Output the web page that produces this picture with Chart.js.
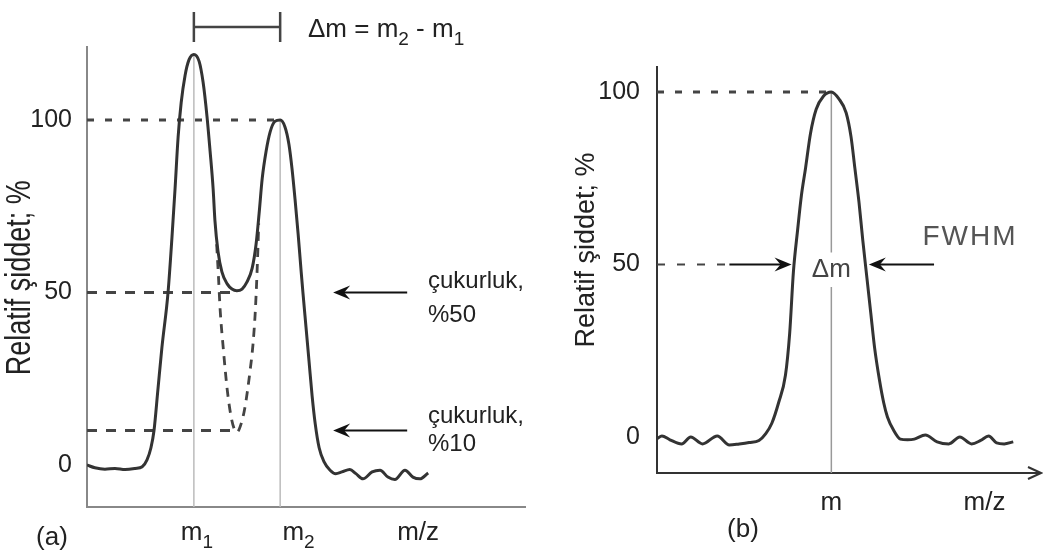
<!DOCTYPE html>
<html lang="tr">
<head>
  <meta charset="UTF-8" />
  <title>Kütle spektrumu çözünürlüğü</title>
  <style>
    body {
      margin: 0;
      background: #fff;
    }
    #kutu {
      position: relative;
      width: 1043px;
      height: 557px;
      overflow: hidden;
    }
    canvas {
      position: absolute;
      top: 0;
    }
    #grafA { left: 0; }
    #grafB { left: 540px; }
  </style>
  <script src="https://cdn.jsdelivr.net/npm/chart.js"></script>
</head>
<body>
  <div id="kutu">
    <canvas id="grafA" width="540" height="557"></canvas>
    <canvas id="grafB" width="503" height="557"></canvas>
  </div>

  <script>
    const FONT = "'Liberation Sans', Arial, sans-serif";

    // (a) iki tepe, m/z keyfi birim (0-100)
    const aX = [0, 1.8, 4.1, 6.4, 8.7, 11.0, 12.6, 13.7, 14.6, 15.3, 16.2, 17.1, 18.5, 19.4, 20.1, 20.8,
      21.5, 22.4, 23.3, 24.4, 25.6, 26.5, 27.4, 28.1, 28.8, 29.2, 29.9, 30.8, 32.0, 33.1, 34.2, 35.4,
      36.5, 37.7, 38.6, 39.3, 40.0, 40.9, 41.8, 42.9, 44.1, 45.2, 46.1, 46.8, 47.5, 48.2, 48.9, 49.3,
      50.0, 50.7, 51.4, 52.1, 53.0, 54.1, 55.5, 56.8, 58.2, 60.0, 61.4, 63.0, 65.1, 66.9, 68.7, 70.3,
      72.6, 74.4, 76.0, 77.9];
    const aY = [0, -0.8, -1.2, -1.0, -1.3, -1.0, -0.5, 1.5, 5, 10, 22, 34, 50, 66, 80, 95,
      105, 113, 117.5, 119, 117, 111, 101, 91, 80, 71, 62, 56, 52.5, 51, 50.5, 51,
      53, 57, 64, 73, 83, 91, 96.5, 99.6, 100, 98, 93, 86, 77, 67, 56, 50,
      40, 30, 20, 12, 5, 1, -1.5, -2.5, -2, -1.3, -2.5, -4, -2, -1.5, -3.5, -4.2,
      -1.5, -3.5, -4, -2.3];
    // %10 çukurluk için kesikli vadi
    const aCukurX = [29.6, 30.0, 30.4, 31.1, 32.0, 32.9, 33.6, 34.2, 35.2, 36.1, 37.2, 37.9, 38.4, 38.7, 39.0, 39.2];
    const aCukurY = [64, 55, 45, 34, 22, 14, 10.5, 9.5, 12, 17, 27, 35, 44, 52, 62, 70];
    const aTepeX = [24.4, 44.1]; // m1, m2
    const aTepeY = [119, 100];
    const aRefY = [100, 50, 10];
    const aRefBitis = [44.1, 33.3, 33.9];
    const aYTicks = [0, 50, 100];
    const aXEtiket = ["m_1", "m_2", "m/z"];

    // (b) tek tepe
    const bX = [0, 1.3, 3.4, 6.5, 8.9, 12.0, 15.9, 19.1, 21.7, 24.3, 26.9, 28.7, 30.3, 32.1, 33.9, 35.0,
      36.0, 37.1, 38.1, 39.2, 40.5, 42.0, 43.9, 46.0, 48.0, 49.9, 51.2, 52.2, 53.3, 54.3, 55.4, 56.4,
      57.4, 58.7, 59.8, 60.8, 62.4, 64.2, 66.1, 67.9, 70.8, 73.9, 77.0, 79.9, 83.0, 85.4, 87.5, 89.6,
      91.6, 94.0];
    const bY = [-0.5, 0.3, -0.8, -2, 0, -2, 0.3, -2.3, -2, -1.6, -1, 1, 4, 10, 18, 30,
      48, 60, 70, 78, 88, 95, 98.8, 100, 98, 94, 87, 78, 68, 57, 46, 36,
      26, 16.5, 10, 5.8, 2, -0.6, -0.8, -0.6, 0.6, -1.4, -2, 0, -2, -1, 0.3, -1.7,
      -2, -1.4];
    const bTepeX = 46.0;
    const bYTicks = [0, 50, 100];
    const bXEtiket = ["m", "m/z"];

    const noktalar = (xs, ys) => xs.map((x, i) => ({ x: x, y: ys[i] }));

    // alt indisli yazı: "m_1" -> m₁
    function zengin(ctx, metin, x, y, boy, hiza) {
      const parcalar = [];
      for (let i = 0; i < metin.length; i++) {
        if (metin[i] === "_") {
          parcalar.push({ t: metin[i + 1], alt: true });
          i++;
        } else if (parcalar.length && !parcalar[parcalar.length - 1].alt) {
          parcalar[parcalar.length - 1].t += metin[i];
        } else {
          parcalar.push({ t: metin[i], alt: false });
        }
      }
      const altBoy = Math.round(boy * 0.72);
      let w = 0;
      parcalar.forEach((p) => {
        ctx.font = `${p.alt ? altBoy : boy}px ${FONT}`;
        p.w = ctx.measureText(p.t).width;
        w += p.w;
      });
      let cx = hiza === "center" ? x - w / 2 : x;
      ctx.textAlign = "left";
      ctx.textBaseline = "alphabetic";
      parcalar.forEach((p) => {
        ctx.font = `${p.alt ? altBoy : boy}px ${FONT}`;
        ctx.fillText(p.t, cx, p.alt ? y + boy * 0.3 : y);
        cx += p.w;
      });
    }

    function ok(ctx, x1, y, x2) {
      const yon = Math.sign(x2 - x1);
      ctx.beginPath();
      ctx.moveTo(x1, y);
      ctx.lineTo(x2 - yon * 8, y);
      ctx.stroke();
      ctx.beginPath();
      ctx.moveTo(x2, y);
      ctx.lineTo(x2 - yon * 17, y - 7);
      ctx.lineTo(x2 - yon * 11, y);
      ctx.lineTo(x2 - yon * 17, y + 7);
      ctx.closePath();
      ctx.fill();
    }

    function dikeyBaslik(ctx, metin, x, y, boy, germe) {
      ctx.save();
      ctx.translate(x, y);
      ctx.rotate(-Math.PI / 2);
      ctx.scale(1, germe);
      ctx.font = `${boy}px ${FONT}`;
      ctx.textAlign = "center";
      ctx.textBaseline = "middle";
      ctx.fillText(metin, 0, 0);
      ctx.restore();
    }

    function cizgi(veri, renk, kalin, kesik) {
      return {
        data: veri,
        borderColor: renk,
        borderWidth: kalin,
        borderDash: kesik || [],
        pointRadius: 0,
        fill: false,
      };
    }

    const cizimA = {
      id: "cizimA",
      afterDraw(chart) {
        const { ctx, chartArea, scales } = chart;
        const px = (v) => scales.x.getPixelForValue(v);
        const py = (v) => scales.y.getPixelForValue(v);
        ctx.save();
        ctx.fillStyle = "#222";
        dikeyBaslik(ctx, "Relatif şiddet; %", chartArea.left - 67, py(54.3), 27, 1.3);

        const konum = [25.1, 48.3, 75.6];
        aXEtiket.forEach((t, i) => zengin(ctx, t, px(konum[i]), chartArea.bottom + 33, 26, "center"));
        zengin(ctx, "(a)", 52, 545, 26, "center");

        // Δm köşeli çizgisi
        ctx.strokeStyle = "#444";
        ctx.lineWidth = 2.5;
        ctx.beginPath();
        ctx.moveTo(px(aTepeX[0]), 27);
        ctx.lineTo(px(aTepeX[1]), 27);
        [0, 1].forEach((i) => {
          ctx.moveTo(px(aTepeX[i]), 12);
          ctx.lineTo(px(aTepeX[i]), 42);
        });
        ctx.stroke();
        zengin(ctx, "Δm = m_2 - m_1", 308, 37, 26, "left");

        // çukurluk okları
        ctx.strokeStyle = "#111";
        ctx.fillStyle = "#111";
        ctx.lineWidth = 2;
        ok(ctx, px(73.1), py(aRefY[1]), px(56.2));
        ok(ctx, px(73.1), py(aRefY[2]), px(56.2));
        ctx.fillStyle = "#222";
        zengin(ctx, "çukurluk,", 428, py(aRefY[1]) - 5, 24, "left");
        zengin(ctx, "%50", 428, py(aRefY[1]) + 29, 24, "left");
        zengin(ctx, "çukurluk,", 428, py(aRefY[2]) - 8, 24, "left");
        zengin(ctx, "%10", 428, py(aRefY[2]) + 20, 24, "left");
        ctx.restore();
      },
    };

    const cizimB = {
      id: "cizimB",
      afterDraw(chart) {
        const { ctx, chartArea, scales } = chart;
        const px = (v) => scales.x.getPixelForValue(v);
        const py = (v) => scales.y.getPixelForValue(v);
        ctx.save();
        ctx.fillStyle = "#222";
        dikeyBaslik(ctx, "Relatif şiddet; %", chartArea.left - 70, py(54.2), 27, 1);

        const konum = [46.0, 86.4];
        bXEtiket.forEach((t, i) => zengin(ctx, t, px(konum[i]), chartArea.bottom + 37, 26, "center"));
        zengin(ctx, "(b)", 203, 537, 26, "center");

        // x ekseni ok ucu
        ctx.strokeStyle = "#333";
        ctx.lineWidth = 2;
        ctx.beginPath();
        ctx.moveTo(chartArea.right - 8, chartArea.bottom - 6);
        ctx.lineTo(chartArea.right + 5, chartArea.bottom);
        ctx.lineTo(chartArea.right - 8, chartArea.bottom + 6);
        ctx.moveTo(chartArea.right, chartArea.bottom);
        ctx.lineTo(chartArea.right + 5, chartArea.bottom);
        ctx.stroke();

        // FWHM okları
        ctx.strokeStyle = "#111";
        ctx.fillStyle = "#111";
        ok(ctx, px(19.1), py(50), px(35.5));
        ok(ctx, px(73.1), py(50), px(55.9));

        ctx.fillStyle = "#444";
        zengin(ctx, "Δm", px(bTepeX), 277, 26, "center");
        ctx.fillStyle = "#555";
        ctx.letterSpacing = "2px";
        zengin(ctx, "FWHM", 430, 245, 28, "center");
        ctx.letterSpacing = "0px";
        ctx.restore();
      },
    };

    function ortakAyar(yMin, yMax, pad, yGenislik, eksenRenk, yTicks, tickPad) {
      return {
        responsive: false,
        animation: false,
        events: [],
        layout: { padding: pad },
        plugins: { legend: { display: false }, tooltip: { enabled: false } },
        scales: {
          x: {
            type: "linear",
            min: 0,
            max: 100,
            grid: { display: false, drawTicks: false },
            border: { display: true, color: eksenRenk, width: 2 },
            ticks: { display: false },
            afterFit: (s) => { s.height = 0; },
          },
          y: {
            type: "linear",
            min: yMin,
            max: yMax,
            grid: { display: false, drawTicks: false },
            border: { display: true, color: eksenRenk, width: 2 },
            ticks: { font: { family: FONT, size: 25 }, color: "#222", padding: tickPad },
            afterBuildTicks: (s) => { s.ticks = yTicks.map((v) => ({ value: v })); },
            afterFit: (s) => { s.width = yGenislik; },
          },
        },
      };
    }

    // (a)
    const egriA = cizgi(noktalar(aX, aY), "#333", 3);
    egriA.cubicInterpolationMode = "monotone";
    const cukurA = cizgi(noktalar(aCukurX, aCukurY), "#444", 2.8, [9, 7]);
    cukurA.cubicInterpolationMode = "monotone";
    const refA = aRefY.map((r, i) =>
      cizgi([{ x: 0, y: r }, { x: aRefBitis[i], y: r }], "#444", 3, i === 0 ? [7, 11] : [10, 9])
    );
    const tepeA = aTepeX.map((m, i) =>
      cizgi([{ x: m, y: -12.17 }, { x: m, y: aTepeY[i] }], "#bbb", 1.5)
    );

    new Chart(document.getElementById("grafA"), {
      type: "line",
      data: { datasets: [egriA, cukurA, ...refA, ...tepeA] },
      options: ortakAyar(-12.17, 121.16, { top: 47, right: 15, bottom: 50, left: 0 }, 87, "#888", aYTicks, 15),
      plugins: [cizimA],
    });

    // (b)
    const egriB = cizgi(noktalar(bX, bY), "#333", 3);
    egriB.cubicInterpolationMode = "monotone";
    const ust100 = cizgi([{ x: 0, y: 100 }, { x: bTepeX, y: 100 }], "#444", 3, [7, 11]);
    const yari50 = cizgi([{ x: 0, y: 50 }, { x: 18.3, y: 50 }], "#444", 2, [8, 12]);
    const tepeB = cizgi(
      [{ x: bTepeX, y: -10.43 }, { x: bTepeX, y: 43.5 }, { x: bTepeX, y: null }, { x: bTepeX, y: 53.5 }, { x: bTepeX, y: 100 }],
      "#999", 1.5
    );
    tepeB.spanGaps = false;

    new Chart(document.getElementById("grafB"), {
      type: "line",
      data: { datasets: [egriB, ust100, yari50, tepeB] },
      options: ortakAyar(-10.43, 107.25, { top: 67, right: 7, bottom: 84, left: 0 }, 117, "#333", bYTicks, 17),
      plugins: [cizimB],
    });
  </script>
</body>
</html>
